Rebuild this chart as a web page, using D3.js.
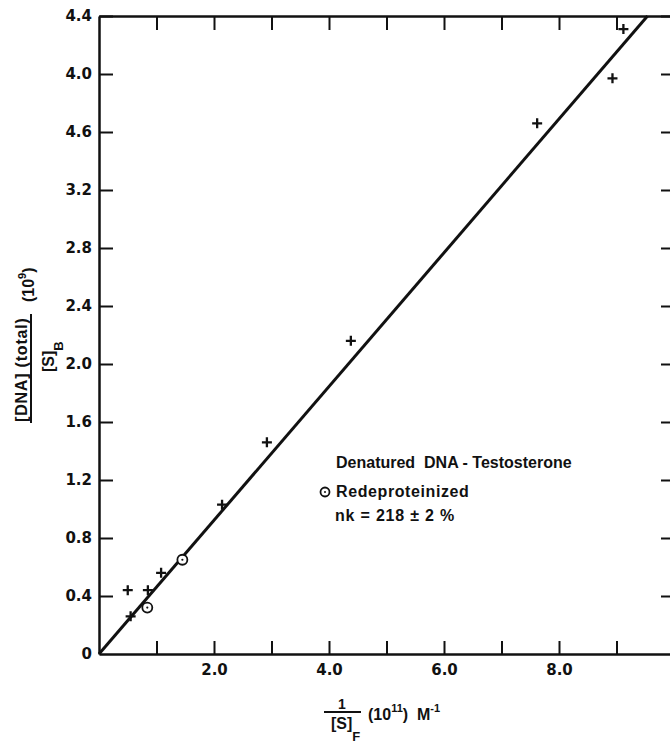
<!DOCTYPE html>
<html>
<head>
<meta charset="utf-8">
<style>
  body { margin: 0; background: #fff; }
  svg { display: block; background: #fff; }
  .axis path, .axis line { stroke: #111; }
  .axis path { stroke-width: 2.5px; }
  .axis line { stroke-width: 2px; }
  .axis text { font-family: "DejaVu Sans", sans-serif; font-weight: bold; font-size: 15px; fill: #111; }
  .lbl { font-family: "Liberation Sans", Arial, sans-serif; font-weight: bold; fill: #111; }
</style>
<script src="https://cdnjs.cloudflare.com/ajax/libs/d3/7.8.5/d3.min.js"></script>
</head>
<body>
<div id="chart"></div>
<script>
const width = 670, height = 743;

// native DNA-testosterone points (crosses)
const crossX = [0.50, 0.55, 0.85, 1.08, 2.14, 2.92, 4.38, 7.62, 8.93, 9.12];
const crossY = [0.44, 0.26, 0.44, 0.56, 1.03, 1.46, 2.16, 3.66, 3.97, 4.31];
// redeproteinized points (circles)
const circX = [0.84, 1.45];
const circY = [0.32, 0.65];
// fitted line
const fitX = [0, 9.54];
const fitY = [0, 4.4];

const yTicks = [0, 0.4, 0.8, 1.2, 1.6, 2.0, 2.4, 2.8, 3.2, 3.6, 4.0, 4.4];
// labels as printed on the original figure
const yLabels = ["0", "0.4", "0.8", "1.2", "1.6", "2.0", "2.4", "2.8", "3.2", "4.6", "4.0", "4.4"];
const xTicks = [0, 1, 2, 3, 4, 5, 6, 7, 8, 9, 10];
const xLabeled = [2, 4, 6, 8];

const x = d3.scaleLinear().domain([0, 10]).range([99, 674]);
const y = d3.scaleLinear().domain([0, 4.4]).range([654, 16]);

const svg = d3.select("#chart").append("svg")
    .attr("width", width).attr("height", height);

// frame axes
svg.append("g").attr("class", "axis")
    .attr("transform", "translate(0," + y(0) + ")")
    .call(d3.axisBottom(x).tickValues(xTicks.slice(1)).tickSize(-13).tickSizeOuter(0).tickPadding(10)
      .tickFormat(d => xLabeled.includes(d) ? d3.format(".1f")(d) : ""));

svg.append("g").attr("class", "axis")
    .attr("transform", "translate(0," + y(4.4) + ")")
    .call(d3.axisTop(x).tickValues(xTicks.slice(1)).tickSize(-14).tickSizeOuter(0).tickFormat(""));

svg.append("g").attr("class", "axis")
    .attr("transform", "translate(" + x(0) + ",0)")
    .call(d3.axisLeft(y).tickValues(yTicks).tickSize(-14).tickSizeOuter(0).tickPadding(7)
      .tickFormat((d, i) => yLabels[i]));

svg.append("g").attr("class", "axis")
    .attr("transform", "translate(" + x(10) + ",0)")
    .call(d3.axisRight(y).tickValues(yTicks).tickSize(-13).tickSizeOuter(0).tickFormat(""));

svg.selectAll(".axis .tick").filter(d => d === 0).select("line").remove();

// fit line
const line = d3.line().x(d => x(d[0])).y(d => y(d[1]));
svg.append("path")
    .datum(d3.zip(fitX, fitY))
    .attr("d", line)
    .attr("fill", "none").attr("stroke", "#111").attr("stroke-width", 3);

// crosses
const cs = 5;
const crosses = svg.append("g").selectAll("g")
    .data(d3.zip(crossX, crossY)).join("g")
    .attr("transform", d => "translate(" + x(d[0]) + "," + y(d[1]) + ")");
crosses.append("path")
    .attr("d", "M" + (-cs) + ",0H" + cs + "M0," + (-cs) + "V" + cs)
    .attr("stroke", "#111").attr("stroke-width", 2.3);

// circles with centre dot
const circs = svg.append("g").selectAll("g")
    .data(d3.zip(circX, circY)).join("g")
    .attr("transform", d => "translate(" + x(d[0]) + "," + y(d[1]) + ")");
circs.append("circle").attr("r", 5).attr("fill", "#fff").attr("stroke", "#111").attr("stroke-width", 1.8);
circs.append("circle").attr("r", 1.1).attr("fill", "#111");

// legend
svg.append("text").attr("class", "lbl").attr("x", 336).attr("y", 468)
    .style("font-size", "16px").attr("xml:space", "preserve")
    .text("Denatured  DNA - Testosterone");
const lg = svg.append("g").attr("transform", "translate(325,492)");
lg.append("circle").attr("r", 4.5).attr("fill", "#fff").attr("stroke", "#111").attr("stroke-width", 1.8);
lg.append("circle").attr("r", 1).attr("fill", "#111");
svg.append("text").attr("class", "lbl").attr("x", 336).attr("y", 497)
    .style("font-size", "16px").style("letter-spacing", "0.6px").text("Redeproteinized");
svg.append("text").attr("class", "lbl").attr("x", 335).attr("y", 521)
    .style("font-size", "16px").style("letter-spacing", "0.8px").text("nk = 218 ± 2 %");

// x axis title: 1/[S]F (10^11) M^-1
const xt = svg.append("g");
xt.append("text").attr("class", "lbl").attr("x", 342).attr("y", 709)
    .attr("text-anchor", "middle").style("font-size", "14px").text("1");
xt.append("line").attr("x1", 324).attr("x2", 361).attr("y1", 712).attr("y2", 712)
    .attr("stroke", "#111").attr("stroke-width", 2);
const xd = xt.append("text").attr("class", "lbl").attr("x", 331).attr("y", 729).style("font-size", "16px");
xd.append("tspan").text("[S]");
xd.append("tspan").attr("dy", 12).style("font-size", "13px").text("F");
const xu = xt.append("text").attr("class", "lbl").attr("x", 368).attr("y", 720).style("font-size", "16px")
    .attr("xml:space", "preserve");
xu.append("tspan").text("(10");
xu.append("tspan").attr("dy", -8).style("font-size", "11px").text("11");
xu.append("tspan").attr("dy", 8).text(")  M");
xu.append("tspan").attr("dy", -8).style("font-size", "11px").text("-1");

// y axis title (rotated): [DNA](total)/[S]B (10^9)
const yt = svg.append("g").attr("transform", "rotate(-90)");
yt.append("text").attr("class", "lbl").attr("x", -422).attr("y", 27)
    .style("font-size", "16px").style("letter-spacing", "0.8px").attr("xml:space", "preserve")
    .text("[DNA] (total)");
yt.append("line").attr("x1", -423).attr("x2", -314).attr("y1", 31).attr("y2", 31)
    .attr("stroke", "#111").attr("stroke-width", 2);
const yd = yt.append("text").attr("class", "lbl").attr("x", -372).attr("y", 54).style("font-size", "16px");
yd.append("tspan").text("[S]");
yd.append("tspan").attr("dy", 9).style("font-size", "13px").text("B");
const yu = yt.append("text").attr("class", "lbl").attr("x", -302).attr("y", 34).style("font-size", "16px");
yu.append("tspan").text("(10");
yu.append("tspan").attr("dy", -8).style("font-size", "11px").text("9");
yu.append("tspan").attr("dy", 8).text(")");
</script>
</body>
</html>
